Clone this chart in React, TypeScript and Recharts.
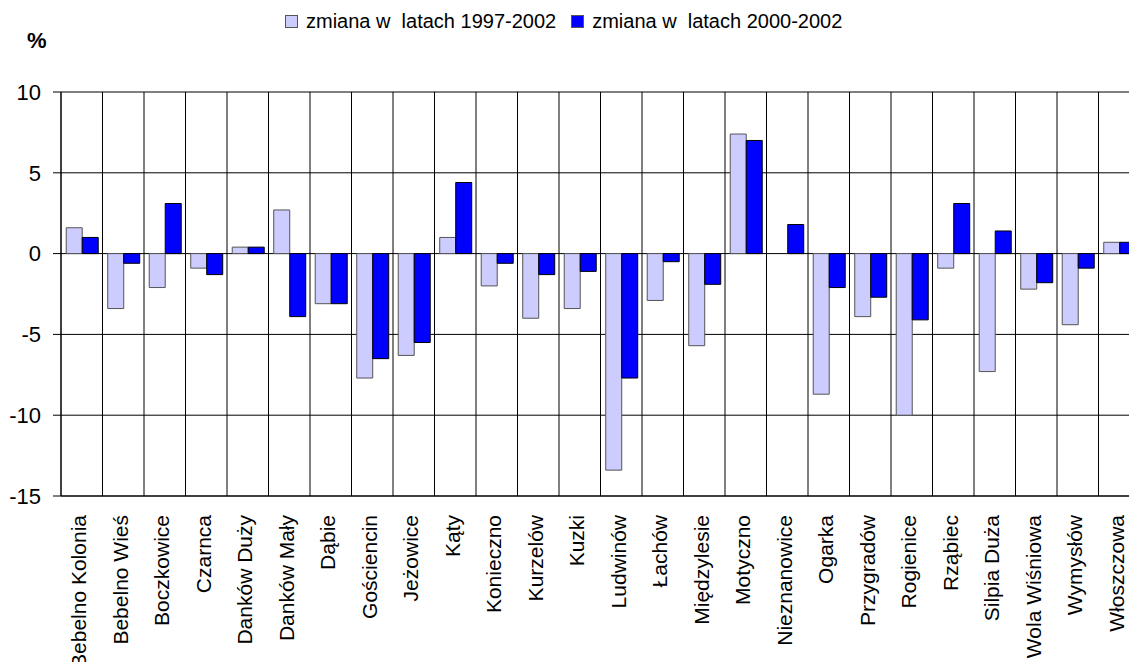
import { BarChart, Bar, XAxis, YAxis, CartesianGrid, Legend } from 'recharts'

const categories = [
  'Bebelno Kolonia', 'Bebelno Wieś', 'Boczkowice', 'Czarnca', 'Danków Duży', 'Danków Mały',
  'Dąbie', 'Gościencin', 'Jeżowice', 'Kąty', 'Konieczno', 'Kurzelów', 'Kuzki', 'Ludwinów',
  'Łachów', 'Międzylesie', 'Motyczno', 'Nieznanowice', 'Ogarka', 'Przygradów', 'Rogienice',
  'Rząbiec', 'Silpia Duża', 'Wola Wiśniowa', 'Wymysłów', 'Włoszczowa',
]
const change1997 = [
  1.6, -3.4, -2.1, -0.9, 0.4, 2.7, -3.1, -7.7, -6.3, 1.0, -2.0, -4.0, -3.4, -13.4,
  -2.9, -5.7, 7.4, 0, -8.7, -3.9, -10.0, -0.9, -7.3, -2.2, -4.4, 0.7,
]
const change2000 = [
  1.0, -0.6, 3.1, -1.3, 0.4, -3.9, -3.1, -6.5, -5.5, 4.4, -0.6, -1.3, -1.1, -7.7,
  -0.5, -1.9, 7.0, 1.8, -2.1, -2.7, -4.1, 3.1, 1.4, -1.8, -0.9, 0.7,
]
const yTicks = [-15, -10, -5, 0, 5, 10]
const seriesNames = ['zmiana w  latach 1997-2002', 'zmiana w  latach 2000-2002']

const LIGHT = '#CCCCFF'
const DARK = '#0000FF'
const FONT = '"Liberation Sans", Arial, sans-serif'

const data = categories.map((name, i) => ({ name, a: change1997[i], b: change2000[i] }))

// category labels: rotated, right-aligned to the top, a bit below the axis
function CategoryTick({ x, y, payload }: any) {
  return (
    <g transform={`translate(${x - 3},${y + 19})`}>
      <text
        x={0}
        y={0}
        transform="rotate(-90)"
        textAnchor="end"
        dominantBaseline="central"
        fontFamily={FONT}
        fontSize={21}
        fill="#000"
      >
        {payload.value}
      </text>
    </g>
  )
}

function TopLegend() {
  const colors = [LIGHT, DARK]
  return (
    <div style={{ display: 'flex', alignItems: 'center', fontFamily: FONT, fontSize: 20, whiteSpace: 'pre', color: '#000' }}>
      {seriesNames.map((s, i) => (
        <div key={s} style={{ display: 'flex', alignItems: 'center', marginRight: 15 }}>
          <span style={{ width: 11, height: 11, background: colors[i], border: '1px solid #555', marginRight: 8 }} />
          <span>{s}</span>
        </div>
      ))}
    </div>
  )
}

export default function App() {
  return (
    <div style={{ position: 'absolute', left: 0, top: 0, width: 1129, height: 662, overflow: 'hidden', background: '#fff' }}>
      <div style={{ position: 'absolute', left: 27, top: 28, fontFamily: FONT, fontWeight: 'bold', fontSize: 22 }}>%</div>
      <BarChart
        width={1160}
        height={662}
        data={data}
        margin={{ top: 92, right: 20, left: 0, bottom: 0 }}
        barCategoryGap="12.6%"
        barGap={0}
      >
        <CartesianGrid
          stroke="#000"
          verticalCoordinatesGenerator={({ offset }: any) =>
            Array.from({ length: categories.length + 1 }, (_, i) => offset.left + (offset.width * i) / categories.length)
          }
        />
        <XAxis
          dataKey="name"
          interval={0}
          height={166}
          tick={<CategoryTick />}
          tickLine={false}
          tickSize={0}
          tickMargin={0}
          axisLine={{ stroke: '#000' }}
        />
        <YAxis
          width={61}
          domain={[-15, 10]}
          ticks={yTicks}
          interval={0}
          tickSize={8}
          tickMargin={12}
          tickLine={{ stroke: '#000' }}
          axisLine={{ stroke: '#000' }}
          tick={{ fill: '#000', fontSize: 22, fontFamily: FONT }}
        />
        <Legend
          verticalAlign="middle"
          align="center"
          layout="horizontal"
          wrapperStyle={{ top: 10, left: 285, width: 'auto' }}
          content={() => <TopLegend />}
        />
        <Bar dataKey="a" name={seriesNames[0]} fill={LIGHT} stroke="#555" strokeWidth={1} isAnimationActive={false} />
        <Bar dataKey="b" name={seriesNames[1]} fill={DARK} stroke="#000" strokeWidth={1} isAnimationActive={false} />
      </BarChart>
    </div>
  )
}
